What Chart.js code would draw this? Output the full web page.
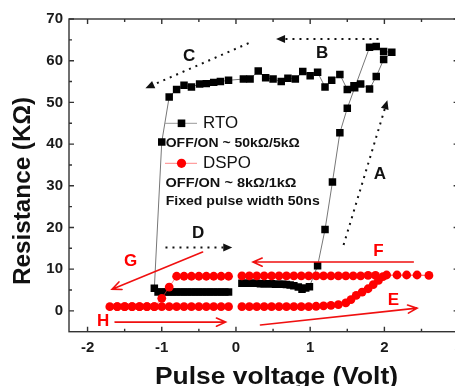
<!DOCTYPE html>
<html><head><meta charset="utf-8">
<script src="https://cdn.jsdelivr.net/npm/chart.js@4"></script>
<style>html,body{margin:0;padding:0;background:#fff;overflow:hidden;width:455px;height:386px}canvas{display:block}</style>
</head><body><canvas id="c" width="470" height="386"></canvas>
<script>
// ---- tick labels ----
const xTicks = [-2, -1, 0, 1, 2, 3];
const xTickLabels = ['-2', '-1', '0', '1', '2', '3'];
const xMinorTicks = [-1.5, -0.5, 0.5, 1.5, 2.5];
const yTicks = [0, 10, 20, 30, 40, 50, 60, 70];
const yTickLabels = ['0', '10', '20', '30', '40', '50', '60', '70'];
const yMinorTicks = [5, 15, 25, 35, 45, 55, 65];

// ---- RTO series (path order) ----
const rtoX = [0.08,0.13,0.18,0.23,0.28,0.33,0.38,0.43,0.48,0.53,0.58,0.63,0.68,0.73,0.78,0.84,0.89,0.94,0.99,
  1.1,1.2,1.3,1.4,1.5,1.6,1.8,1.89,1.99,2.1,1.99,1.89,1.8,1.68,1.59,1.5,
  1.4,1.29,1.2,1.1,1.0,0.9,0.8,0.7,0.61,0.5,0.4,0.3,0.19,0.1,
  -0.1,-0.21,-0.3,-0.4,-0.49,-0.6,-0.7,-0.8,-0.9,-1.0,-1.1,
  -1.05,-1.0,-0.95,-0.9,-0.85,-0.8,-0.75,-0.7,-0.65,-0.6,-0.55,-0.5,-0.45,-0.4,-0.35,-0.3,-0.25,-0.2,-0.15,-0.1];
const rtoY = [6.6,6.6,6.6,6.6,6.6,6.5,6.5,6.5,6.5,6.4,6.4,6.4,6.3,6.2,6.0,5.7,5.2,5.5,5.8,
  10.8,19.5,30.9,42.7,48.6,53.5,63.2,63.4,62.2,62.0,60.3,56.2,53.2,54.4,54.0,53.1,
  56.7,55.3,53.7,57.2,56.4,57.4,55.6,55.8,55.0,55.6,55.9,57.5,55.6,55.6,
  55.3,55.0,54.8,54.5,54.4,53.7,54.1,53.1,51.3,40.5,5.4,
  4.5,4.5,4.5,4.5,4.5,4.5,4.5,4.5,4.5,4.5,4.5,4.5,4.5,4.5,4.5,4.5,4.5,4.5,4.5,4.5];

// ---- DSPO series, right half (E then F) ----
const dspoRX = [0.08,0.18,0.28,0.38,0.48,0.58,0.68,0.78,0.88,0.98,1.08,1.18,1.28,1.38,1.48,1.55,1.62,1.70,1.78,1.85,1.92,1.98,
  2.03,2.17,2.30,2.44,2.60,
  1.88,1.78,1.68,1.58,1.48,1.38,1.28,1.18,1.08,0.98,0.88,0.78,0.68,0.58,0.48,0.38,0.28,0.18,0.08];
const dspoRY = [1.0,1.0,1.0,1.0,1.0,1.0,1.0,1.0,1.0,1.0,1.1,1.2,1.3,1.5,1.9,2.7,3.7,4.5,5.3,6.3,7.3,8.2,
  8.6,8.6,8.6,8.6,8.5,
  8.5,8.5,8.4,8.4,8.4,8.4,8.4,8.4,8.4,8.4,8.4,8.4,8.4,8.4,8.4,8.4,8.4,8.4,8.4];
// ---- DSPO series, left half (G then H) ----
const dspoLX = [-0.1,-0.2,-0.3,-0.4,-0.5,-0.6,-0.7,-0.8,-0.9,-1.0,-1.1,-1.2,-1.3,-1.4,-1.5,-1.6,-1.7,
  -1.6,-1.5,-1.4,-1.3,-1.2,-1.1,-1.0,-0.9,-0.8,-0.7,-0.6,-0.5,-0.4,-0.3,-0.2,-0.1];
const dspoLY = [8.3,8.3,8.3,8.3,8.3,8.3,8.3,8.3,5.7,3.0,1.0,1.0,1.0,1.0,1.0,1.0,1.0,
  1.0,1.0,1.0,1.0,1.0,1.0,1.0,1.0,1.0,1.0,1.0,1.0,1.0,1.0,1.0,1.0];

const pts = (xs, ys) => xs.map((v, i) => ({x: v, y: ys[i]}));

// ---- annotations (data coordinates) ----
const dottedArrows = [
  {from: [0.17, 64.2], to: [-1.22, 53.4]},   // C
  {from: [1.92, 65.2], to: [0.54, 65.2]},    // B
  {from: [1.45, 15.8], to: [2.04, 50.5]},    // A
  {from: [-0.95, 15.2], to: [-0.05, 15.2]}   // D
];
const redArrows = [
  {from: [-0.45, 14.1], to: [-1.67, 5.2]},   // G
  {from: [2.39, 11.7], to: [0.23, 11.7]},    // F
  {from: [0.33, -3.4], to: [2.44, 0.65]},    // E
  {from: [-1.63, -2.7], to: [-0.14, -2.7]}   // H
];
const letters = [
  {t: 'C', at: [-0.63, 61.1], c: '#111'},
  {t: 'B', at: [1.16, 61.8], c: '#111'},
  {t: 'A', at: [1.94, 32.8], c: '#111'},
  {t: 'D', at: [-0.51, 18.6], c: '#111'},
  {t: 'G', at: [-1.42, 11.9], c: '#f00'},
  {t: 'F', at: [1.92, 14.3], c: '#f00'},
  {t: 'E', at: [2.12, 2.6], c: '#f00'},
  {t: 'H', at: [-1.79, -2.5], c: '#f00'}
];

const FAM = '"Liberation Sans", Arial, sans-serif';

function fitText(ctx, txt, x, y, font, w, align, color, rot) {
  ctx.save();
  ctx.font = font; ctx.fillStyle = color; ctx.textBaseline = 'middle'; ctx.textAlign = align;
  const m = ctx.measureText(txt).width;
  const s = w ? w / m : 1;
  ctx.translate(x, y);
  if (rot) ctx.rotate(rot);
  ctx.scale(s, 1);
  ctx.fillText(txt, 0, 0);
  ctx.restore();
}

function dottedArrow(ctx, x1, y1, x2, y2) {
  const a = Math.atan2(y2 - y1, x2 - x1), hl = 9, hw = 4;
  const bx = x2 - hl * Math.cos(a), by = y2 - hl * Math.sin(a);
  ctx.save();
  ctx.strokeStyle = '#111'; ctx.lineWidth = 2; ctx.setLineDash([2, 5]);
  ctx.beginPath(); ctx.moveTo(x1, y1); ctx.lineTo(bx, by); ctx.stroke();
  ctx.setLineDash([]); ctx.fillStyle = '#111';
  ctx.beginPath(); ctx.moveTo(x2, y2);
  ctx.lineTo(bx + hw * Math.sin(a), by - hw * Math.cos(a));
  ctx.lineTo(bx - hw * Math.sin(a), by + hw * Math.cos(a));
  ctx.closePath(); ctx.fill();
  ctx.restore();
}

function redArrow(ctx, x1, y1, x2, y2) {
  const a = Math.atan2(y2 - y1, x2 - x1), L = 10, sp = 0.42;
  ctx.save();
  ctx.strokeStyle = '#f01010'; ctx.lineWidth = 1.6; ctx.lineCap = 'round';
  ctx.beginPath(); ctx.moveTo(x1, y1); ctx.lineTo(x2, y2);
  ctx.moveTo(x2 - L * Math.cos(a - sp), y2 - L * Math.sin(a - sp));
  ctx.lineTo(x2, y2);
  ctx.lineTo(x2 - L * Math.cos(a + sp), y2 - L * Math.sin(a + sp));
  ctx.stroke();
  ctx.restore();
}

const decor = {
  id: 'decor',
  afterDatasetsDraw(chart) {
    const {ctx, chartArea: ca, scales: {x, y}} = chart;
    const P = p => [x.getPixelForValue(p[0]), y.getPixelForValue(p[1])];
    // frame
    ctx.save();
    ctx.strokeStyle = '#333'; ctx.lineWidth = 1.4;
    ctx.strokeRect(ca.left, ca.top, ca.right - ca.left, ca.bottom - ca.top);
    // inward ticks
    ctx.beginPath();
    const tx = (v, len) => { const px = x.getPixelForValue(v);
      ctx.moveTo(px, ca.bottom); ctx.lineTo(px, ca.bottom - len);
      ctx.moveTo(px, ca.top); ctx.lineTo(px, ca.top + len); };
    const ty = (v, len) => { const py = y.getPixelForValue(v);
      ctx.moveTo(ca.left, py); ctx.lineTo(ca.left + len, py);
      ctx.moveTo(ca.right, py); ctx.lineTo(ca.right - len, py); };
    xTicks.forEach(v => tx(v, 5)); xMinorTicks.forEach(v => tx(v, 3));
    yTicks.forEach(v => ty(v, 5)); yMinorTicks.forEach(v => ty(v, 3));
    ctx.stroke();
    ctx.restore();

    dottedArrows.forEach(a => { const p = P(a.from), q = P(a.to); dottedArrow(ctx, p[0], p[1], q[0], q[1]); });
    redArrows.forEach(a => { const p = P(a.from), q = P(a.to); redArrow(ctx, p[0], p[1], q[0], q[1]); });
    letters.forEach(l => { const p = P(l.at); fitText(ctx, l.t, p[0], p[1], 'bold 17px ' + FAM, 0, 'center', l.c); });

    // legend
    ctx.save();
    ctx.strokeStyle = '#999'; ctx.lineWidth = 1;
    ctx.beginPath(); ctx.moveTo(165, 123.3); ctx.lineTo(197, 123.3); ctx.stroke();
    ctx.fillStyle = '#000'; ctx.fillRect(181.5 - 3.8, 123.3 - 3.8, 7.6, 7.6);
    ctx.strokeStyle = '#f88';
    ctx.beginPath(); ctx.moveTo(165, 163.3); ctx.lineTo(197, 163.3); ctx.stroke();
    ctx.fillStyle = '#f00'; ctx.beginPath(); ctx.arc(181.5, 163.3, 4.6, 0, Math.PI * 2); ctx.fill();
    ctx.restore();
    fitText(ctx, 'RTO', 203, 123.5, '17px ' + FAM, 35, 'left', '#111');
    fitText(ctx, 'OFF/ON ~ 50k\u03A9/5k\u03A9', 165.7, 144, 'bold 12px ' + FAM, 134, 'left', '#111');
    fitText(ctx, 'DSPO', 203, 163.5, '17px ' + FAM, 48, 'left', '#111');
    fitText(ctx, 'OFF/ON ~ 8k\u03A9/1k\u03A9', 165.5, 183.3, 'bold 12px ' + FAM, 131, 'left', '#111');
    fitText(ctx, 'Fixed pulse width 50ns', 165.7, 202, 'bold 12px ' + FAM, 154, 'left', '#111');

    // axis titles
    fitText(ctx, 'Pulse voltage (Volt)', 276.5, 377, 'bold 24px ' + FAM, 243, 'center', '#111');
    fitText(ctx, 'Resistance (K\u03A9)', 23, 191, 'bold 24px ' + FAM, 188, 'center', '#111', -Math.PI / 2);
  }
};

const tickFont = {family: FAM, size: 15, weight: 'bold'};

new Chart(document.getElementById('c'), {
  type: 'scatter',
  data: {
    datasets: [
      {label: 'DSPO', data: pts(dspoRX, dspoRY), showLine: true, order: 0,
       borderColor: 'rgba(255,60,60,0.6)', borderWidth: 1,
       pointStyle: 'circle', pointRadius: 4.4, pointBackgroundColor: '#f00', pointBorderWidth: 0},
      {label: 'DSPO', data: pts(dspoLX, dspoLY), showLine: true, order: 0,
       borderColor: 'rgba(255,60,60,0.6)', borderWidth: 1,
       pointStyle: 'circle', pointRadius: 4.4, pointBackgroundColor: '#f00', pointBorderWidth: 0},
      {label: 'RTO', data: pts(rtoX, rtoY), showLine: true, order: 1,
       borderColor: '#777', borderWidth: 1,
       pointStyle: 'rect', pointRadius: 5.3, pointBackgroundColor: '#000', pointBorderWidth: 0}
    ]
  },
  options: {
    responsive: false, animation: false, devicePixelRatio: 1,
    layout: {padding: {left: 0, top: 19, right: 11.4, bottom: 0}},
    plugins: {legend: {display: false}, tooltip: {enabled: false}},
    scales: {
      x: {type: 'linear', min: -2.25, max: 3, position: 'bottom',
        afterBuildTicks: s => { s.ticks = xTicks.map(v => ({value: v})); },
        afterFit: s => { s.height = 54.3; },
        grid: {display: false, drawTicks: false}, border: {display: false},
        ticks: {padding: 7, font: tickFont, color: '#1a1a1a', maxRotation: 0, autoSkip: false,
          callback: v => xTickLabels[xTicks.indexOf(v)]}
      },
      y: {type: 'linear', min: -5, max: 70, position: 'left',
        afterBuildTicks: s => { s.ticks = yTicks.map(v => ({value: v})); },
        afterFit: s => { s.width = 69; },
        grid: {display: false, drawTicks: false}, border: {display: false},
        ticks: {padding: 6, font: tickFont, color: '#1a1a1a', autoSkip: false,
          callback: v => yTickLabels[yTicks.indexOf(v)]}
      }
    }
  },
  plugins: [decor]
});
</script>
</body></html>
